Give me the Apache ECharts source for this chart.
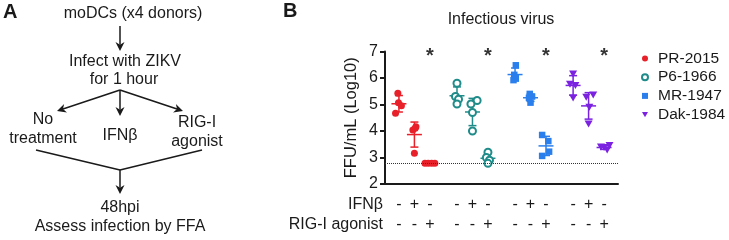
<!DOCTYPE html>
<html>
<head>
<meta charset="utf-8">
<script src="https://cdn.jsdelivr.net/npm/echarts@6/dist/echarts.min.js"></script>
<style>
  html,body{margin:0;padding:0;background:#fff;}
  #chart{width:729px;height:240px;}
</style>
</head>
<body>
<div id="chart"></div>
<script>
// strains in legend order
const strains=['PR-2015','P6-1966','MR-1947','Dak-1984'];
const colors=['#e8202a','#1f8c8a','#2b7fec','#7a22e0'];
const downTri='path://M0,0L10,0L5,9Z';
const symbols=['circle','emptyCircle','rect',downTri];

// x slot of each column (3 treatments per strain)
const xPos=[1,2,3, 4.75,5.75,6.75, 8.5,9.5,10.5, 12.25,13.25,14.25];
const ifnSigns=['-','+','-','-','+','-','-','+','-','-','+','-'];
const rigSigns=['-','-','+','-','-','+','-','-','+','-','-','+'];

// log10 FFU/mL, 4 donors per column: [no treatment, IFNb, RIG-I agonist]
const prValues=[[5.42,5.07,4.95,4.67],[4.16,4.04,4.10,3.16],[2.78,2.78,2.78,2.78]];
const p6Values=[[5.80,5.30,5.20,5.02],[5.15,5.02,4.70,4.00],[3.20,3.00,2.90,2.78]];
const mrValues=[[6.48,6.12,6.00,5.92],[5.40,5.30,5.25,5.07],[3.85,3.62,3.22,3.06]];
const dakValues=[[6.15,5.76,5.72,5.25],[5.36,5.27,4.90,4.26],[3.45,3.38,3.40,3.28]];

// horizontal spread of overlapping dots (x units)
const prJitter=[[-0.07,-0.03,0.16,-0.22],[0.1,-0.1,0.05,0],[-0.32,-0.11,0.11,0.32]];
const p6Jitter=[[0,-0.1,0.1,0],[0.3,-0.1,0,0],[0,-0.1,0.1,0]];
const mrJitter=[[0.05,-0.05,0.05,-0.1],[-0.05,0.1,-0.1,0],[-0.25,0.15,0.2,-0.25]];
const dakJitter=[[0,-0.2,0.15,0],[0.3,-0.15,0.05,0],[0.35,0,-0.2,0.2]];

const lod=2.78;            // limit of detection
const starCols=[2,5,8,11]; // columns marked *
const starLevel=7;

const allValues=[prValues,p6Values,mrValues,dakValues];
const allJitter=[prJitter,p6Jitter,mrJitter,dakJitter];

const font='Arial, "Liberation Sans", sans-serif';
const ink='#1a1a1a';
const fs=16;

function mean(a){return a.reduce((s,v)=>s+v,0)/a.length;}
function sd(a){const m=mean(a);return Math.sqrt(a.reduce((s,v)=>s+(v-m)*(v-m),0)/(a.length-1));}

const series=[];
strains.forEach((name,si)=>{
    const pts=[];
    const bars=[];
    allValues[si].forEach((vals,gi)=>{
        const x=xPos[si*3+gi];
        vals.forEach((v,k)=>pts.push([x+allJitter[si][gi][k],v]));
        bars.push([x,mean(vals),sd(vals)]);
    });
    series.push({
        name:name,
        type:'scatter',
        data:pts,
        z:4,
        symbol:symbols[si],
        symbolSize:si===3?[8,7]:(si===2?6.5:7),
        itemStyle:{color:colors[si],borderColor:colors[si],borderWidth:si===1?1.5:0,opacity:1},
        markLine:si===0?{
            silent:true,symbol:'none',label:{show:false},
            lineStyle:{type:'dotted',color:'#333',width:1},
            data:[{yAxis:lod}]
        }:undefined
    });
    series.push({
        name:name+' sd',
        type:'custom',
        data:bars,
        z:3,
        renderItem:(params,api)=>{
            const x=api.value(0),m=api.value(1),s=api.value(2);
            const c=api.coord([x,m]);
            const t=api.coord([x,m+s]);
            const b=api.coord([x,m-s]);
            const st={stroke:colors[si],lineWidth:1.5};
            return {type:'group',children:[
                {type:'line',shape:{x1:c[0],y1:t[1],x2:c[0],y2:b[1]},style:st},
                {type:'line',shape:{x1:c[0]-7.5,y1:c[1],x2:c[0]+7.5,y2:c[1]},style:st},
                {type:'line',shape:{x1:c[0]-4,y1:t[1],x2:c[0]+4,y2:t[1]},style:st},
                {type:'line',shape:{x1:c[0]-4,y1:b[1],x2:c[0]+4,y2:b[1]},style:st}
            ]};
        }
    });
});

series.push({
    name:'stars',
    type:'scatter',
    data:starCols.map(i=>[xPos[i],starLevel]),
    symbolSize:1,
    itemStyle:{color:'transparent'},
    label:{show:true,position:'inside',formatter:'*',fontSize:20,fontWeight:'bold',fontFamily:font,color:'#000',offset:[0,5]}
});

// panel A helpers
function arrow(x1,y1,x2,y2){
    const a=Math.atan2(y2-y1,x2-x1);
    const L=9,W=4.5;
    const bx=x2-L*Math.cos(a),by=y2-L*Math.sin(a);
    const px=-Math.sin(a)*W,py=Math.cos(a)*W;
    const nx=x2-L*0.7*Math.cos(a),ny=y2-L*0.7*Math.sin(a);
    return [
        {type:'line',shape:{x1:x1,y1:y1,x2:nx,y2:ny},style:{stroke:ink,lineWidth:1.5}},
        {type:'polygon',shape:{points:[[x2,y2],[bx+px,by+py],[nx,ny],[bx-px,by-py]]},style:{fill:ink}}
    ];
}
function txt(s,x,y,extra){
    return {type:'text',x:x,y:y,style:Object.assign({text:s,font:fs+'px '+font,fill:ink,align:'center',verticalAlign:'middle'},extra||{})};
}

const graphic=[
    txt('A',3,12,{font:'bold 20px '+font,align:'left'}),
    txt('B',283,11,{font:'bold 20px '+font,align:'left'}),
    txt('moDCs (x4 donors)',133,14),
    ...arrow(120,26,120,51),
    txt('Infect with ZIKV',125,62),
    txt('for 1 hour',124,80),
    ...arrow(120,90,57,111),
    ...arrow(120,90,120,116),
    ...arrow(120,90,183,111),
    txt('No',43,120),
    txt('treatment',43,139),
    txt('IFNβ',120,136),
    txt('RIG-I',197,123),
    txt('agonist',197,142),
    {type:'line',shape:{x1:36,y1:150,x2:120,y2:170},style:{stroke:ink,lineWidth:1.5}},
    {type:'line',shape:{x1:202,y1:150,x2:120,y2:170},style:{stroke:ink,lineWidth:1.5}},
    ...arrow(120,170,120,194),
    txt('48hpi',120,208),
    txt('Assess infection by FFA',120,227),
    txt('Infectious virus',501,20),
    txt('IFNβ',383,205,{align:'right'}),
    txt('RIG-I agonist',383,225,{align:'right'})
];

const chart=echarts.init(document.getElementById('chart'),null,{renderer:'canvas'});
chart.setOption({
    animation:false,
    backgroundColor:'#fff',
    textStyle:{fontFamily:font},
    grid:{left:385,right:111,top:51.5,bottom:56,containLabel:false},
    legend:{
        data:strains.map((n,i)=>({name:n,icon:symbols[i]})),
        orient:'vertical',
        left:636,top:50,
        padding:[0,0,0,5],
        itemWidth:6,itemHeight:6,itemGap:1.7,
        textStyle:{fontSize:15.5,lineHeight:17,color:ink,fontFamily:font,padding:[0,0,0,5]}
    },
    xAxis:{
        type:'value',min:0.1,max:15.15,
        axisLine:{show:true,lineStyle:{color:ink,width:2}},
        axisTick:{show:false},
        splitLine:{show:false},
        axisLabel:{
            customValues:xPos,
            formatter:(v)=>{const i=xPos.indexOf(v);return ifnSigns[i]+'\n'+rigSigns[i];},
            fontSize:fs,lineHeight:20,margin:11,color:ink,fontFamily:font
        }
    },
    yAxis:{
        type:'value',min:2,max:7,interval:1,
        name:'FFU/mL (Log10)',nameLocation:'middle',nameGap:25,
        nameTextStyle:{fontSize:16.5,color:ink,fontFamily:font},
        axisLine:{show:true,lineStyle:{color:ink,width:2}},
        axisTick:{show:true,length:5,lineStyle:{color:ink,width:2}},
        splitLine:{show:false},
        axisLabel:{fontSize:fs,color:ink,margin:7,fontFamily:font}
    },
    graphic:graphic,
    series:series
});
</script>
</body>
</html>
